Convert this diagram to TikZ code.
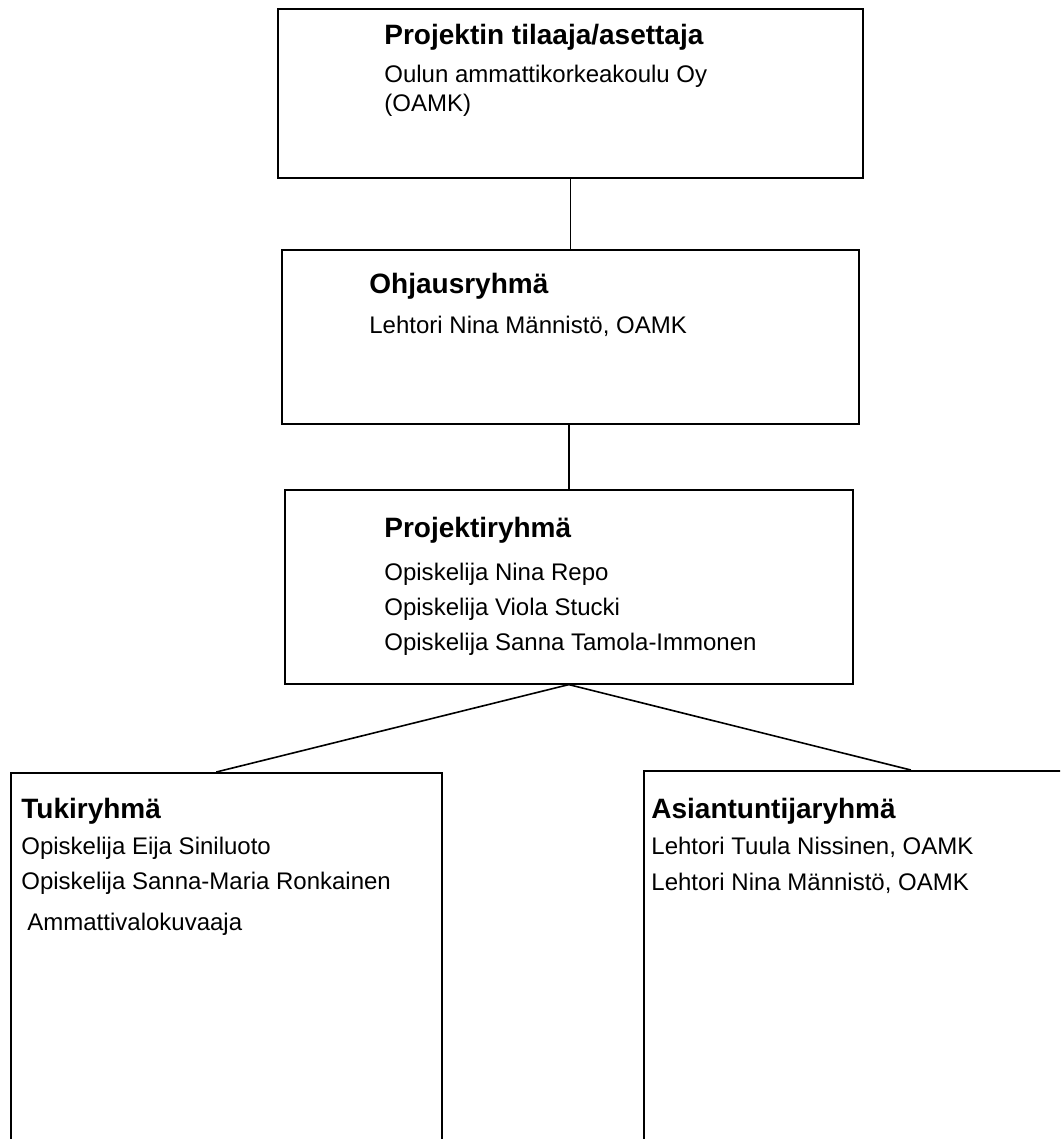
\documentclass[tikz,border=0pt]{standalone}
\usepackage{fontspec}
\setmainfont{Liberation Sans}
\tikzset{
  grpbox/.style={draw, line width=0.8pt, inner sep=0pt, anchor=north west},
  grptitle/.style={font=\fontsize{14}{16}\selectfont\bfseries, anchor=base west, inner sep=0pt},
  grpline/.style={font=\fontsize{12}{14}\selectfont, anchor=base west, inner sep=0pt},
  grplink/.style={line width=0.8pt}
}
\begin{document}
\begin{tikzpicture}[x=0.5pt, y=-0.5pt]
  \clip (0,0) rectangle (1060,1139);
  \fill[white] (0,0) rectangle (1060,1139);
  \foreach \n/\x/\y/\w/\h in {tilaaja/277/8/292.5/84.5, ohjaus/281/249/288.5/87,
      projekti/284/489/284/97, tuki/10/772/215.5/200, asian/643/770/267/200}
    \node[grpbox, minimum width=\w pt, minimum height=\h pt] (\n) at (\x,\y) {};
  \node[grptitle] (tilaaja-ots) at (384,45) {Projektin tilaaja/asettaja};
  \node[grptitle] (ohjaus-ots) at (369,293) {Ohjausryhmä};
  \node[grptitle] (projekti-ots) at (384,537) {Projektiryhmä};
  \node[grptitle] (tuki-ots) at (21,818) {Tukiryhmä};
  \node[grptitle] (asian-ots) at (651,818) {Asiantuntijaryhmä};
  \foreach \n/\x/\y/\t in {tilaaja-1/384/83/{Oulun ammattikorkeakoulu Oy},
      tilaaja-2/384/112/{(OAMK)}, ohjaus-1/369/333/{Lehtori Nina Männistö, OAMK},
      projekti-1/384/580/{Opiskelija Nina Repo}, projekti-2/384/615/{Opiskelija Viola Stucki},
      projekti-3/384/650/{Opiskelija Sanna Tamola-Immonen},
      tuki-1/21/854/{Opiskelija Eija Siniluoto}, tuki-2/21/889/{Opiskelija Sanna-Maria Ronkainen},
      tuki-3/27/930/{Ammattivalokuvaaja},
      asian-1/651/854/{Lehtori Tuula Nissinen, OAMK}, asian-2/651/890/{Lehtori Nina Männistö, OAMK}}
    \node[grpline] (\n) at (\x,\y) {\t};
  \draw[grplink] (tilaaja.south) -- (ohjaus.north);
  \draw[grplink] (ohjaus.south -| projekti.north) -- (projekti.north);
  \draw[grplink] (projekti.south) -- ([xshift=-5pt]tuki.north);
  \draw[grplink] (projekti.south) -- (asian.north);
\end{tikzpicture}
\end{document}
